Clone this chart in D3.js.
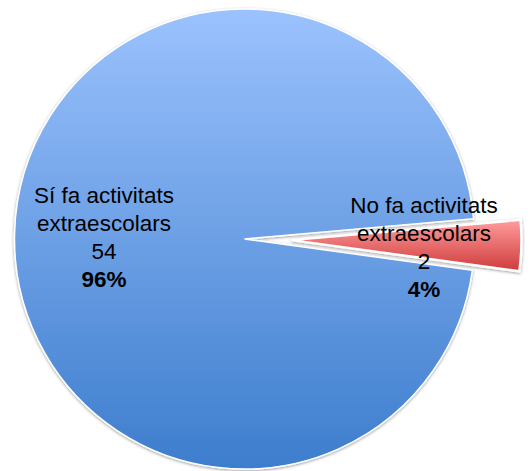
<!DOCTYPE html>
<html><head><meta charset="utf-8">
<script src="https://cdn.jsdelivr.net/npm/d3@7"></script>
<style>html,body{margin:0;padding:0;background:#fff}svg{display:block}</style>
</head><body>
<script>
const categories = ["Sí fa activitats extraescolars", "No fa activitats extraescolars"];
const labelLines = [["Sí fa activitats", "extraescolars"], ["No fa activitats", "extraescolars"]];
const values = [54, 2];
const percents = ["96%", "4%"];

const W = 530, H = 471;
const cx = 244.5, cy = 239, R = 230;
const explode = [0, 47];
const labelPos = [[104, 203], [424, 213]];
const lineH = 28;

const svg = d3.select("body").append("svg").attr("width", W).attr("height", H);
const defs = svg.append("defs");
const grads = [["#9bc2fd", "#3d7dcd"], ["#ff9d9d", "#cf3a3a"]];
grads.forEach((g, i) => {
  const lg = defs.append("linearGradient").attr("id", "g" + i).attr("x1", 0).attr("y1", 0).attr("x2", 0).attr("y2", 1);
  lg.append("stop").attr("offset", "0%").attr("stop-color", g[0]);
  lg.append("stop").attr("offset", "100%").attr("stop-color", g[1]);
});
const f = defs.append("filter").attr("id", "sh").attr("x", "-10%").attr("y", "-10%").attr("width", "120%").attr("height", "120%");
f.append("feDropShadow").attr("dx", 0).attr("dy", 1).attr("stdDeviation", 1.8).attr("flood-color", "#000").attr("flood-opacity", 0.4);

const start = 1.707;
const pie = d3.pie().sort(null).startAngle(start).endAngle(start + 2 * Math.PI);
const arcs = pie(values);
const arc = d3.arc().innerRadius(0).outerRadius(R);

const g = svg.append("g").attr("transform", `translate(${cx},${cy})`);
g.selectAll("path").data(arcs).enter().append("path")
  .attr("d", arc)
  .attr("transform", (d, i) => {
    const a = (d.startAngle + d.endAngle) / 2;
    return `translate(${explode[i] * Math.sin(a)},${-explode[i] * Math.cos(a)})`;
  })
  .attr("fill", (d, i) => `url(#g${i})`)
  .attr("stroke", "#fff").attr("stroke-width", (d, i) => i ? 2.5 : 1.5)
  .attr("filter", "url(#sh)");

labelPos.forEach((p, i) => {
  const t = svg.append("text").attr("text-anchor", "middle")
    .attr("font-family", "Liberation Sans, Arial, sans-serif").attr("font-size", 22.5).attr("fill", "#000");
  const lines = [...labelLines[i], String(values[i])];
  lines.forEach((l, k) => t.append("tspan").attr("x", p[0]).attr("y", p[1] + k * lineH).text(l));
  t.append("tspan").attr("x", p[0]).attr("y", p[1] + 3 * lineH).attr("font-weight", "bold").text(percents[i]);
});
</script>
</body></html>
